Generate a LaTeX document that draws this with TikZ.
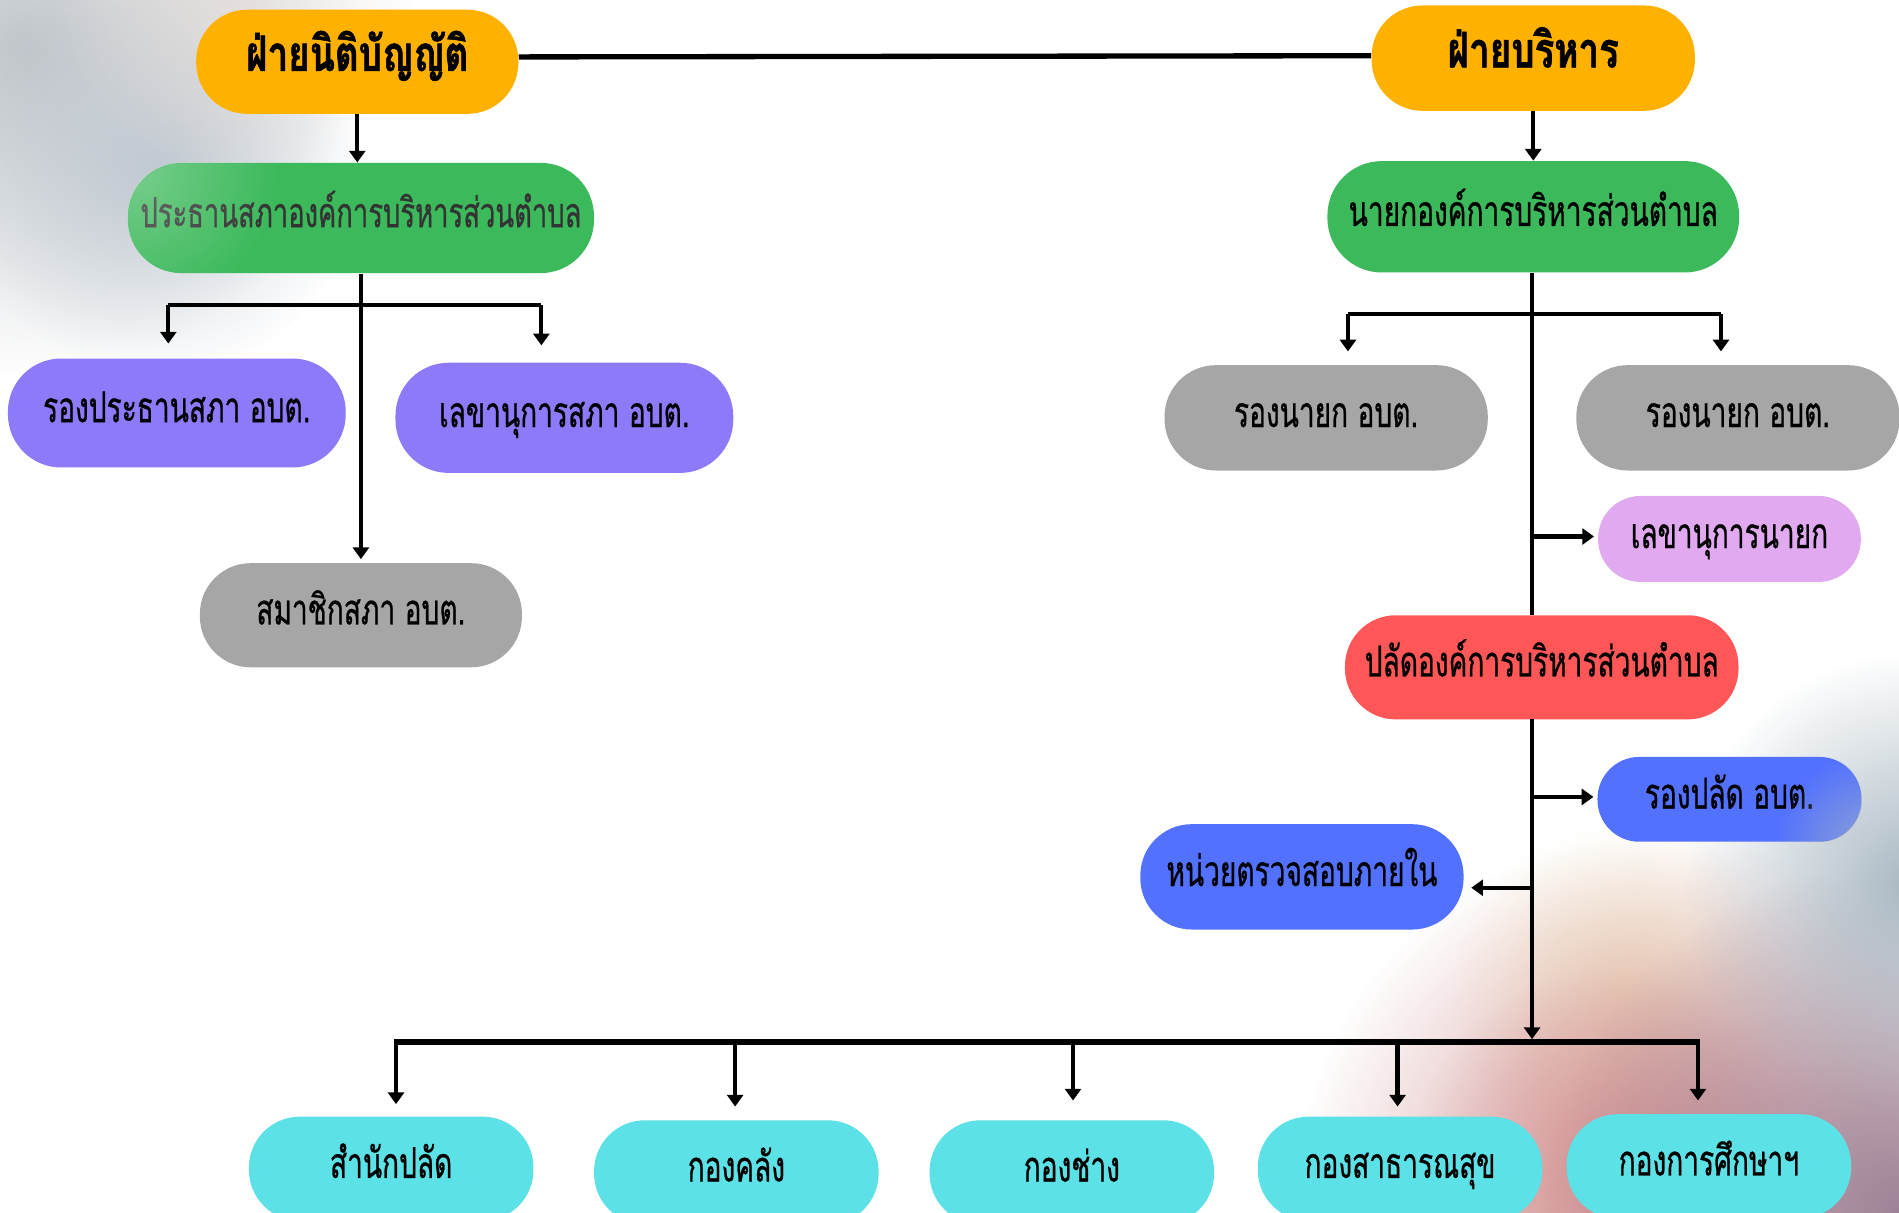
\documentclass[tikz,border=0pt]{standalone}
\usepackage{fontspec}
\newfontfamily\thai[Script=Thai,FakeStretch=0.66,FakeBold=0.6]{Loma}
\newfontfamily\thaihead[Script=Thai,FakeStretch=0.75,FakeBold=1.2]{Loma}
\usetikzlibrary{arrows.meta,fadings}
\definecolor{cOrange}{HTML}{FFB100}
\definecolor{cGreen}{HTML}{3CB95B}
\definecolor{cPurple}{HTML}{8C7AF8}
\definecolor{cGrey}{HTML}{A6A6A6}
\definecolor{cPink}{HTML}{E0A9F0}
\definecolor{cRed}{HTML}{FF5757}
\definecolor{cBlue}{HTML}{5271FF}
\definecolor{cCyan}{HTML}{5CE1E6}
\definecolor{bgGrey}{HTML}{C2C7CB}
\definecolor{bgBlue}{HTML}{B8C2CC}
\definecolor{bgBeige}{HTML}{E2DAD6}
\definecolor{bgRose}{HTML}{D18E8E}
\definecolor{bgMauve}{HTML}{9E8296}
\definecolor{bgSteel}{HTML}{A9B8C2}
\definecolor{bgCream}{HTML}{F5EDCF}
\tikzfading[name=blobfade, inner color=transparent!0, outer color=transparent!100]
\begin{document}
\begin{tikzpicture}[x=0.02cm,y=-0.02cm,
  pill/.style={rectangle, draw=none, inner sep=0pt, align=center,
    text height=2ex, text depth=0pt, text=black,
    font=\thai\fontsize{20}{23}\selectfont},
  headpill/.style={pill, fill=cOrange, rounded corners=0.84cm,
    font=\thaihead\bfseries\fontsize{23}{26}\selectfont},
  conn/.style={line width=2pt, draw=black},
  arr/.style={conn, -{Triangle[width=7.5pt,length=5.5pt]}},
  blob/.style={path fading=blobfade}
]
\useasboundingbox (0,0) rectangle (1568,1001);
\clip (0,0) rectangle (1568,1001);
\fill[white] (0,0) rectangle (1568,1001);
% background glows
\fill[bgGrey, blob] (20,40) circle (5.4cm);
\fill[bgBlue, blob, opacity=0.8] (130,140) circle (3.4cm);
\fill[bgBeige, blob, opacity=0.7] (190,0) circle (3cm);
\fill[bgCream, blob] (1340,820) circle (2.8cm);
\fill[bgRose, blob] (1370,990) circle (6cm);
\fill[bgRose, blob, opacity=0.6] (1330,960) circle (3.2cm);
\fill[bgMauve, blob] (1568,1001) circle (5.8cm);
\fill[bgSteel, blob] (1580,730) circle (3.8cm);

% legislative side
\node[headpill, minimum width=5.32cm, minimum height=1.72cm] (L0) at (295,51) {ฝ่ายนิติบัญญัติ};
\node[pill, fill=cGreen, rounded corners=0.88cm, minimum width=7.7cm, minimum height=1.82cm, text=black!80, font=\thai\fontsize{19.5}{23}\selectfont] (L1) at (298,180) {ประธานสภาองค์การบริหารส่วนตำบล};
\node[pill, fill=cPurple, rounded corners=0.88cm, minimum width=5.58cm, minimum height=1.8cm] (VP1) at (146,341) {รองประธานสภา อบต.};
\node[pill, fill=cPurple, rounded corners=0.88cm, minimum width=5.58cm, minimum height=1.82cm] (VP2) at (466,345) {เลขานุการสภา อบต.};
\node[pill, fill=cGrey, rounded corners=0.84cm, minimum width=5.32cm, minimum height=1.72cm] (MEM) at (298,508) {สมาชิกสภา อบต.};

% executive side
\node[headpill, minimum width=5.34cm, minimum height=1.74cm] (R0) at (1266,48) {ฝ่ายบริหาร};
\node[pill, fill=cGreen, rounded corners=0.9cm, minimum width=6.8cm, minimum height=1.84cm] (R1) at (1266,179) {นายกองค์การบริหารส่วนตำบล};
\node[pill, fill=cGrey, rounded corners=0.85cm, minimum width=5.34cm, minimum height=1.74cm] (DM1) at (1095,345) {รองนายก อบต.};
\node[pill, fill=cGrey, rounded corners=0.85cm, minimum width=5.34cm, minimum height=1.74cm] (DM2) at (1435,345) {รองนายก อบต.};
\node[pill, fill=cPink, rounded corners=0.7cm, minimum width=4.34cm, minimum height=1.42cm] (SEC) at (1428,445) {เลขานุการนายก};
\node[pill, fill=cRed, rounded corners=0.84cm, minimum width=6.5cm, minimum height=1.72cm] (PAL) at (1273,551) {ปลัดองค์การบริหารส่วนตำบล};
\node[pill, fill=cBlue, rounded corners=0.69cm, minimum width=4.36cm, minimum height=1.4cm] (DPAL) at (1428,660) {รองปลัด อบต.};
\node[pill, fill=cBlue, rounded corners=0.85cm, minimum width=5.34cm, minimum height=1.74cm] (AUD) at (1075,724) {หน่วยตรวจสอบภายใน};

% divisions
\node[pill, fill=cCyan, rounded corners=0.84cm, minimum width=4.7cm, minimum height=1.72cm] (D1) at (323,965) {สำนักปลัด};
\node[pill, fill=cCyan, rounded corners=0.84cm, minimum width=4.7cm, minimum height=1.72cm] (D2) at (608,968) {กองคลัง};
\node[pill, fill=cCyan, rounded corners=0.84cm, minimum width=4.7cm, minimum height=1.72cm] (D3) at (885,968) {กองช่าง};
\node[pill, fill=cCyan, rounded corners=0.84cm, minimum width=4.7cm, minimum height=1.72cm] (D4) at (1156,965) {กองสาธารณสุข};
\node[pill, fill=cCyan, rounded corners=0.84cm, minimum width=4.7cm, minimum height=1.72cm] (D5) at (1411,963) {กองการศึกษาฯ};

% overlays on boxes
\begin{scope}
  \clip[rounded corners=0.88cm] (L1.north west) rectangle (L1.south east);
  \fill[white, blob, opacity=0.3] (110,140) circle (2.4cm);
\end{scope}
\begin{scope}
  \clip[rounded corners=0.69cm] (DPAL.north west) rectangle (DPAL.south east);
  \fill[bgSteel, blob, opacity=0.7] (1545,700) circle (1.6cm);
\end{scope}

% connectors: top
\draw[conn, line width=2.5pt] ([yshift=0.08cm]L0.east) -- ([yshift=0.04cm]R0.west);
\draw[arr] (L0.south) -- (L0.south |- L1.north);
\draw[arr] (R0.south) -- (R1.north);

% legislative branches
\coordinate (lb1) at (139,252);
\coordinate (lb2) at (447,252);
\draw[conn] (lb1) -- (lb2);
\draw[arr, shorten >=0.24cm] (lb1) -- (lb1 |- VP1.north);
\draw[arr, shorten >=0.28cm] (lb2) -- (lb2 |- VP2.north);
\draw[arr, shorten >=0.06cm] (L1.south) -- (MEM.north);

% executive branches
\coordinate (rt) at (1265,225);
\coordinate (rb1) at (1113,259);
\coordinate (rb2) at (1421,259);
\draw[conn] (rb1) -- (rb2);
\draw[arr, shorten >=0.22cm] (rb1) -- (rb1 |- DM1.north);
\draw[arr, shorten >=0.22cm] (rb2) -- (rb2 |- DM2.north);
\draw[conn] (rt) -- (rt |- PAL.north);

\coordinate (s1) at (1265,443);
\draw[arr, shorten >=0.06cm] (s1) -- (s1 -| SEC.west);
\coordinate (pt) at (1265,594);
\coordinate (s2) at (1265,658);
\draw[arr, shorten >=0.06cm] (s2) -- (s2 -| DPAL.west);
\coordinate (s3) at (1267,733);
\draw[arr, shorten >=0.12cm] (s3) -- (s3 -| AUD.east);

% bottom bar
\coordinate (bar) at (1265,858);
\draw[arr] (pt) -- (bar);
\coordinate (b1) at (327,860);
\coordinate (b2) at (607,860);
\coordinate (b3) at (886,860);
\coordinate (b4) at (1154,860);
\coordinate (b5) at (1402,860);
\draw[conn, line width=2.8pt] ([xshift=-1pt]b1) -- ([xshift=1pt]b5);
\draw[arr, shorten >=0.2cm] (b1) -- (b1 |- D1.north);
\draw[arr, shorten >=0.22cm] (b2) -- (b2 |- D2.north);
\draw[arr, shorten >=0.32cm] (b3) -- (b3 |- D3.north);
\draw[arr, shorten >=0.16cm] (b4) -- (b4 |- D4.north);
\draw[arr, shorten >=0.22cm] (b5) -- (b5 |- D5.north);
\end{tikzpicture}
\end{document}
